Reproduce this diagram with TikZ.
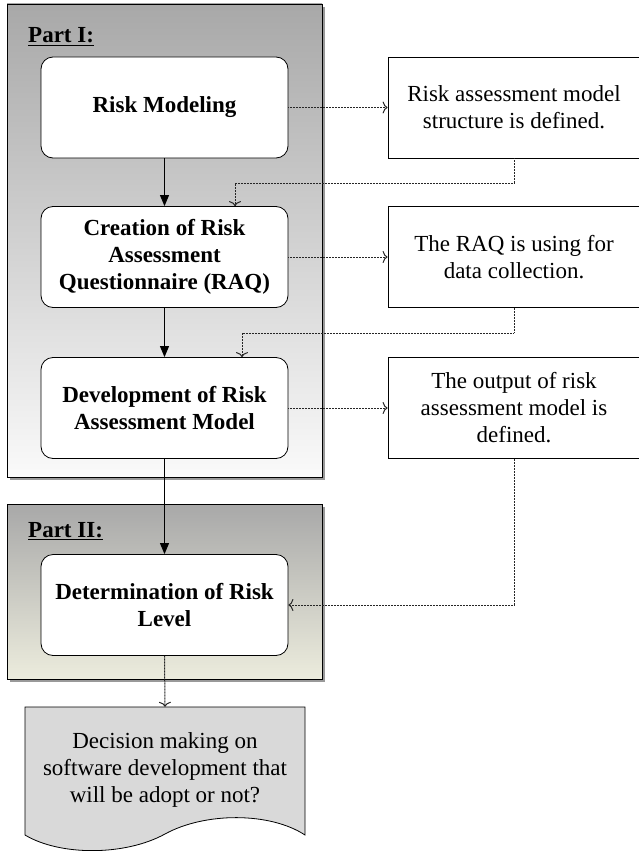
\documentclass[tikz,border=0pt]{standalone}
\usepackage{fontspec}
\setmainfont{Liberation Serif}
\usepackage{xcolor}
\usetikzlibrary{arrows.meta}
\definecolor{paleolive}{RGB}{236,236,221}

\begin{document}
\begin{tikzpicture}[x=1pt,y=-1pt,
        stepbox/.style={draw,line width=0.8pt,rounded corners=12pt,fill=white,minimum width=247pt,minimum height=101pt,inner sep=2pt,align=center,font=\fontsize{23}{27}\selectfont\bfseries},
        notebox/.style={draw,line width=0.8pt,fill=white,minimum width=252pt,minimum height=101pt,inner sep=2pt,align=center,font=\fontsize{23}{27}\selectfont},
        partlabel/.style={anchor=base west,inner sep=0pt,font=\fontsize{23}{27}\selectfont\bfseries},
        flow/.style={-{Triangle[length=11pt,width=9pt]},line width=0.9pt},
        dotflow/.style={-{To[length=5pt,width=12pt]},line width=1pt,dash pattern=on 1pt off 0.5pt,draw=black!85}]
        \useasboundingbox (0,0) rectangle (638,851);

        \fill[gray!80] (10,7) rectangle (325,480);
        \shade[top color=gray!68,bottom color=gray!4] (7,4) rectangle (322,477);
        \draw[line width=0.8pt] (7,4) rectangle (322,477);
        \fill[gray!80] (10,507) rectangle (325,682);
        \shade[top color=gray!68,bottom color=paleolive] (7,504) rectangle (322,679);
        \draw[line width=0.8pt] (7,504) rectangle (322,679);

        \node[partlabel] (part1) at (28,43) {\underline{Part I:}};
        \node[partlabel] (part2) at (28,537) {\underline{Part II:}};

        \node[stepbox] (model) at (164.5,107.5) {Risk Modeling};
        \node[stepbox] (raq) at (164.5,257) {Creation of Risk\\Assessment\\Questionnaire (RAQ)};
        \node[stepbox] (develop) at (164.5,408) {Development of Risk\\Assessment Model};
        \node[stepbox] (level) at (164.5,605) {Determination of Risk\\Level};

        \node[notebox] (structure) at (514,107.5) {Risk assessment model\\structure is defined.};
        \node[notebox] (collect) at (514,257) {The RAQ is using for\\data collection.};
        \node[notebox] (output) at (514,408) {The output of risk\\assessment model is\\defined.};

        \filldraw[fill=gray!30,line width=0.8pt] (25,707) -- (305,707) -- (305,835)
            .. controls (270,812) and (205,812) .. (165,834)
            .. controls (125,856) and (60,856) .. (25,835) -- cycle;
        \node[align=center,minimum width=280pt,minimum height=126pt,inner sep=0pt,font=\fontsize{23}{27}\selectfont] (decision) at (165,770) {Decision making on\\software development that\\will be adopt or not?};

        \coordinate (back1) at (235,183);
        \coordinate (back2) at (242,333);

        \draw[flow] (model.south) -- (raq.north);
        \draw[flow] (raq.south) -- (develop.north);
        \draw[flow] (develop.south) -- (level.north);

        \draw[dotflow] (model.east) -- (structure.west);
        \draw[dotflow] (raq.east) -- (collect.west);
        \draw[dotflow] (develop.east) -- (output.west);
        \draw[dotflow] (structure.south) |- (back1) -- (back1 |- raq.north);
        \draw[dotflow] (collect.south) |- (back2) -- (back2 |- develop.north);
        \draw[dotflow] (output.south) |- (level.east);
        \draw[dotflow] (level.south) -- (decision.north);
    \end{tikzpicture}
\end{document}
